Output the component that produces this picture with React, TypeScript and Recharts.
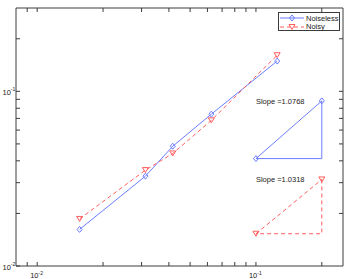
import React from 'react';
import {
  ComposedChart, Scatter, XAxis, YAxis, ReferenceDot, Legend
} from 'recharts';

// grid sizes h and the measured errors
const hValues = [0.015625, 0.03125, 0.041667, 0.0625, 0.125];
const noiseless = [0.0162, 0.0327, 0.0485, 0.074, 0.149];
const noisy = [0.0186, 0.0354, 0.0441, 0.0682, 0.161];

// slope triangles (left x, right x) and their (low y, high y)
const triX = [0.1, 0.2];
const noiselessTri = [0.0412, 0.0882];
const noisyTri = [0.0153, 0.0313];
const slopeLabels = ['Slope =1.0768', 'Slope =1.0318'];

const seriesNames = ['Noiseless', 'Noisy'];

const xTicks = [0.009, 0.01, 0.02, 0.03, 0.04, 0.05, 0.06, 0.07, 0.08, 0.09, 0.1, 0.2];
const yTicks = [0.02, 0.03, 0.04, 0.05, 0.06, 0.07, 0.08, 0.09, 0.1, 0.2];
const majorTicks: Record<string, string> = { '0.01': '-2', '0.1': '-1' };

const BLUE = '#6b7dff';
const RED = '#ff5c5c';
const AXIS = '#3c3c3c';
const FONT = '"Liberation Sans", Arial, Helvetica, sans-serif';
const TICK_LEN = 4;

const mainData = hValues.map((h, i) => ({ x: h, y: noiseless[i] }));
const noisyData = hValues.map((h, i) => ({ x: h, y: noisy[i] }));
const hyp = (ys: number[]) => [{ x: triX[0], y: ys[0] }, { x: triX[1], y: ys[1] }];
const legs = (ys: number[]) => [
  { x: triX[1], y: ys[1] }, { x: triX[1], y: ys[0] }, { x: triX[0], y: ys[0] }
];

const Diamond = ({ cx, cy }: any) => (
  <path d={`M${cx},${cy - 3}L${cx + 2.5},${cy}L${cx},${cy + 3}L${cx - 2.5},${cy}Z`}
    fill="none" stroke={BLUE} strokeWidth={1} />
);
const TriDown = ({ cx, cy }: any) => (
  <path d={`M${cx - 3},${cy - 2.5}L${cx + 3},${cy - 2.5}L${cx},${cy + 2.5}Z`}
    fill="none" stroke={RED} strokeWidth={1} />
);
const NoShape = () => <g />;

const Pow = ({ x, y, exp, anchor }: any) => (
  <text x={x} y={y} fontSize={7.5} fontFamily={FONT} fill="#222" textAnchor={anchor}>
    10<tspan fontSize={5} dy={-3.5}>{exp}</tspan>
  </text>
);

const makeTick = (side: 'bottom' | 'top' | 'left' | 'right') => (props: any) => {
  const { x, y, payload } = props;
  const exp = majorTicks[String(payload.value)];
  let line;
  if (side === 'bottom') line = <line x1={x} y1={y} x2={x} y2={y - TICK_LEN} stroke={AXIS} />;
  else if (side === 'top') line = <line x1={x} y1={y} x2={x} y2={y + TICK_LEN} stroke={AXIS} />;
  else if (side === 'left') line = <line x1={x} y1={y} x2={x + TICK_LEN} y2={y} stroke={AXIS} />;
  else line = <line x1={x} y1={y} x2={x - TICK_LEN} y2={y} stroke={AXIS} />;
  return (
    <g>
      {line}
      {exp && side === 'bottom' && <Pow x={x - 7} y={y + 12} exp={exp} anchor="start" />}
      {exp && side === 'left' && <Pow x={x - 13.5} y={y + 3.5} exp={exp} anchor="start" />}
    </g>
  );
};

const LegendBox = () => (
  <div style={{
    border: `1px solid ${AXIS}`, background: '#fff', width: 62, height: 19,
    boxSizing: 'border-box', fontFamily: FONT, fontSize: 7.5, color: '#222'
  }}>
    {seriesNames.map((name, i) => (
      <div key={name} style={{ display: 'flex', alignItems: 'center', height: 8.5, marginTop: i === 0 ? 1 : 0 }}>
        <svg width={26} height={8} style={{ flex: 'none' }}>
          <line x1={1} y1={4} x2={25} y2={4} stroke={i === 0 ? BLUE : RED}
            strokeDasharray={i === 0 ? undefined : '4 3'} />
          {i === 0 ? <Diamond cx={13} cy={4} /> : <TriDown cx={13} cy={4} />}
        </svg>
        <span style={{ marginLeft: 1 }}>{name}</span>
      </div>
    ))}
  </div>
);

export default function App() {
  return (
    <div style={{ position: 'absolute', left: 0, top: 0, background: '#fff' }}>
      <ComposedChart width={349} height={279}
        margin={{ top: 7, right: 5, bottom: 12, left: 15 }}>
        <XAxis xAxisId="b" dataKey="x" type="number" scale="log" domain={[0.008, 0.25]}
          allowDataOverflow ticks={xTicks} height={1} tickSize={0} tickMargin={0}
          tickLine={false} stroke={AXIS} tick={makeTick('bottom')} interval={0} />
        <XAxis xAxisId="t" dataKey="x" type="number" scale="log" domain={[0.008, 0.25]}
          allowDataOverflow ticks={xTicks} height={1} tickSize={0} tickMargin={0}
          orientation="top" tickLine={false} stroke={AXIS} tick={makeTick('top')} interval={0} />
        <YAxis yAxisId="l" dataKey="y" type="number" scale="log" domain={[0.01, 0.3]}
          allowDataOverflow ticks={[0.01, ...yTicks]} width={1} tickSize={0} tickMargin={0}
          tickLine={false} stroke={AXIS} tick={makeTick('left')} interval={0} />
        <YAxis yAxisId="r" dataKey="y" type="number" scale="log" domain={[0.01, 0.3]}
          allowDataOverflow ticks={yTicks} width={1} tickSize={0} tickMargin={0}
          orientation="right" tickLine={false} stroke={AXIS} tick={makeTick('right')} interval={0} />

        <Scatter xAxisId="b" yAxisId="l" name={seriesNames[0]} data={mainData} fill="none"
          line={{ stroke: BLUE, strokeWidth: 1, fill: 'none' }} lineType="joint"
          shape={Diamond} isAnimationActive={false} />
        <Scatter xAxisId="b" yAxisId="l" name={seriesNames[1]} data={noisyData} fill="none"
          line={{ stroke: RED, strokeWidth: 1, strokeDasharray: '4 3', fill: 'none' }} lineType="joint"
          shape={TriDown} isAnimationActive={false} />

        <Scatter xAxisId="b" yAxisId="l" data={legs(noiselessTri)} fill="none" legendType="none"
          line={{ stroke: BLUE, strokeWidth: 1, fill: 'none' }} lineType="joint"
          shape={NoShape} isAnimationActive={false} />
        <Scatter xAxisId="b" yAxisId="l" data={hyp(noiselessTri)} fill="none" legendType="none"
          line={{ stroke: BLUE, strokeWidth: 1, fill: 'none' }} lineType="joint"
          shape={Diamond} isAnimationActive={false} />
        <Scatter xAxisId="b" yAxisId="l" data={legs(noisyTri)} fill="none" legendType="none"
          line={{ stroke: RED, strokeWidth: 1, strokeDasharray: '4 3', fill: 'none' }} lineType="joint"
          shape={NoShape} isAnimationActive={false} />
        <Scatter xAxisId="b" yAxisId="l" data={hyp(noisyTri)} fill="none" legendType="none"
          line={{ stroke: RED, strokeWidth: 1, strokeDasharray: '4 3', fill: 'none' }} lineType="joint"
          shape={TriDown} isAnimationActive={false} />

        {[noiselessTri, noisyTri].map((ys, i) => (
          <ReferenceDot key={i} xAxisId="b" yAxisId="l" x={triX[0]} y={ys[1]} r={0}
            stroke="none" fill="none"
            label={{ value: slopeLabels[i], position: 'right', offset: 0, fontSize: 7.5, fontFamily: FONT, fill: '#222' }} />
        ))}

        <Legend layout="vertical" align="center" verticalAlign="middle"
          wrapperStyle={{ top: 12, left: 278, width: 62, height: 19 }}
          content={() => <LegendBox />} />
      </ComposedChart>
    </div>
  );
}
